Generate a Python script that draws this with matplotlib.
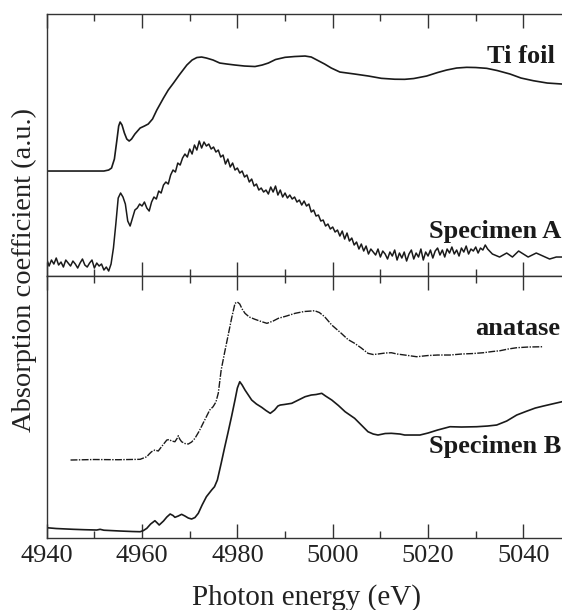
import numpy as np
import matplotlib
matplotlib.use("Agg")
import matplotlib.pyplot as plt
from matplotlib.ticker import MultipleLocator

plt.rcParams['font.family'] = ['Liberation Serif', 'DejaVu Serif']

# ---- data (arbitrary absorption units) ----
# Ti foil reference (upper panel)
ti_energy = [4940, 4952.0, 4953.0, 4953.6, 4954.2, 4954.7, 4955.1, 4955.4, 4955.8,
             4956.3, 4956.8, 4957.3, 4957.8, 4958.5, 4959.6, 4960.5, 4961.3, 4962.2,
             4963.1, 4964.5, 4965.5, 4966.6, 4967.8, 4969.4, 4970.5, 4971.5, 4972.5,
             4973.5, 4974.9, 4976.3, 4977.8, 4979.5, 4981.5, 4983.7, 4985.2, 4986.5,
             4988.0, 4990.0, 4992.0, 4994.2, 4995.5, 4996.7, 4998.3, 4999.7, 5001.5,
             5004.6, 5007.5, 5010.2, 5013.0, 5015.1, 5017.0, 5019.7, 5022.0, 5023.9,
             5026.0, 5028.1, 5030.0, 5032.3, 5034.5, 5037.2, 5039.5, 5042.1, 5045.0,
             5048.1]
ti_foil = [105, 105, 106, 108, 117, 135, 150, 154, 151,
           143, 137, 135, 137, 142, 148, 150, 152, 157,
           166, 178, 186, 193, 201, 211, 216, 218.5, 219,
           218, 216, 213, 212, 211, 210, 209.5, 211, 213,
           216.5, 218.7, 219.5, 220, 219, 216, 212, 208, 204,
           202, 200, 197.7, 196.8, 196.7, 197.5, 200, 203.5, 206,
           208, 208.7, 208.5, 207.7, 205.5, 202, 198, 195.3, 193,
           192]

# Specimen A (upper panel), 0.5 eV steps from 4940 to 5032.5, then coarser tail
spec_a_dense = [17, 10, 16, 12, 18, 11, 14, 9, 16, 13,
                10, 15, 12, 8, 13, 17, 11, 9, 13, 16,
                8, 13, 10, 12, 6, 9, 5, 12, 28, 52,
                78, 83, 79, 72, 55, 50, 58, 66, 68, 72,
                70, 74, 68, 65, 74, 79, 77, 85, 83, 91,
                94, 92, 101, 106, 104, 113, 111, 118, 122, 119,
                127, 122, 131, 126, 135, 128, 134, 130, 132, 127,
                129, 124, 126, 119, 121, 112, 117, 109, 113, 106,
                108, 103, 105, 99, 101, 94, 97, 90, 92, 86,
                88, 84, 86, 82, 89, 84, 90, 81, 86, 79,
                83, 78, 81, 77, 79, 74, 76, 71, 75, 70,
                72, 64, 66, 60, 61, 55, 56, 50, 52, 47,
                49, 44, 46, 40, 45, 37, 43, 35, 38, 31,
                34, 27, 32, 25, 30, 22, 27, 24, 21, 27,
                19, 25, 22, 17, 24, 20, 26, 16, 23, 18,
                24, 15, 22, 26, 17, 23, 19, 27, 16, 24,
                20, 26, 18, 25, 28, 21, 26, 19, 27, 23,
                29, 22, 26, 20, 28, 24, 30, 22, 27, 25,
                29, 23, 28, 26, 31, 27]
spec_a_tail_energy = [5033.5, 5035.0, 5036.5, 5037.7, 5039.0, 5041.0, 5042.7, 5045.5,
                      5046.9, 5048.5]
spec_a_tail = [22, 19, 23, 19, 25, 19, 23, 17, 19, 19]

# anatase reference (lower panel)
anatase_energy = [4945.0, 4950.0, 4955.0, 4959.6, 4960.3, 4961.0, 4961.5, 4962.0, 4962.7,
                  4963.4, 4964.2, 4965.2, 4965.7, 4966.2, 4966.9, 4967.4, 4967.6, 4967.9,
                  4968.3, 4969.0, 4969.7, 4970.4, 4971.1, 4972.0, 4972.8, 4974.2, 4974.9,
                  4975.5, 4976.0, 4976.6, 4977.3, 4978.0, 4978.8, 4979.5, 4980.0, 4980.5,
                  4981.0, 4981.6, 4982.5, 4983.7, 4985.0, 4986.2, 4987.5, 4988.6, 4990.3,
                  4992.1, 4994.0, 4995.5, 4996.2, 4997.2, 4998.3, 4999.8, 5001.8, 5003.2,
                  5004.6, 5006.0, 5007.4, 5008.5, 5009.5, 5011.0, 5012.3, 5013.5, 5015.1,
                  5017.6, 5020.0, 5022.0, 5024.6, 5027.0, 5029.5, 5031.6, 5033.5, 5035.1,
                  5036.8, 5038.6, 5041.0, 5044.2]
anatase = [78, 78.5, 78.3, 78.7, 80, 81.3, 84, 86.3, 88,
           87, 92, 98, 98.5, 97, 96.3, 100, 102.3, 99,
           96.3, 94.5, 94, 96, 99.7, 107, 114.7, 128, 131.3,
           136, 145, 168, 185, 201.3, 220, 234.7, 236, 234,
           229, 224.7, 221, 218.7, 216.5, 214.7, 217, 219.7, 222,
           224.7, 226.5, 227, 227.3, 225.5, 221.3, 213, 204.7, 198.5,
           194.7, 190, 184.7, 183.5, 184, 185, 185.3, 184, 183,
           181.3, 182.5, 183, 183, 184, 184.5, 185.3, 186.5, 187.3,
           189, 190.3, 191, 191.3]

# Specimen B (lower panel)
spec_b_energy = [4940.0, 4942.0, 4945.6, 4948.0, 4950.5, 4951.2, 4952.0, 4955.4, 4958.0,
                 4959.6, 4960.3, 4961.0, 4961.8, 4962.7, 4963.2, 4963.6, 4964.5, 4965.2,
                 4965.9, 4966.5, 4966.9, 4967.6, 4968.3, 4969.0, 4969.7, 4970.4, 4971.1,
                 4971.8, 4972.6, 4973.5, 4974.6, 4975.2, 4975.8, 4976.6, 4977.3, 4978.0,
                 4978.8, 4979.5, 4980.0, 4980.5, 4981.0, 4981.6, 4982.3, 4983.0, 4984.0,
                 4985.1, 4986.0, 4986.9, 4987.8, 4988.5, 4989.0, 4989.8, 4991.4, 4992.8,
                 4994.2, 4995.5, 4996.5, 4997.7, 4998.5, 4999.8, 5001.2, 5002.6, 5003.6,
                 5004.6, 5006.0, 5007.4, 5008.5, 5009.5, 5011.0, 5012.3, 5014.1, 5015.1,
                 5016.5, 5018.3, 5020.0, 5022.0, 5024.6, 5027.0, 5030.2, 5032.5, 5034.4,
                 5036.5, 5038.6, 5040.5, 5042.5, 5044.2, 5046.0, 5048.1]
spec_b = [10.3, 9.5, 8.7, 8.3, 8.0, 8.7, 7.8, 7.0, 6.5,
          6.3, 7.5, 9.7, 14, 17.3, 15, 13, 17, 21,
          24, 22.5, 20.7, 22, 23.7, 22, 20, 19, 20.5,
          24.7, 33, 41.3, 48, 51.3, 58, 74.7, 90, 104.7,
          122, 138, 150, 156.3, 153, 148, 143, 138, 134,
          130.7, 127.5, 124.7, 128, 132, 133, 133.5, 134.7, 138,
          141.3, 143, 143.5, 144.7, 142, 138, 132.5, 126.3, 123,
          119.7, 113, 106.3, 104, 103, 104.5, 104.7, 104, 103,
          103, 103, 105, 108, 111.3, 111, 111.3, 112, 113,
          117, 123, 126.5, 130, 132, 134, 136.3]

spec_a_energy = list(4940 + 0.5 * np.arange(len(spec_a_dense))) + spec_a_tail_energy
spec_a = spec_a_dense + spec_a_tail

# ---- figure ----
fig = plt.figure(figsize=(5.62, 6.10), dpi=100)
ax1 = fig.add_axes([0.0831, 0.5475, 0.9169, 0.4295])
ax2 = fig.add_axes([0.0831, 0.118, 0.9169, 0.4295], sharex=ax1)

ax1.plot(ti_energy, ti_foil, color="#1a1a1a", lw=1.2)
ax1.plot(spec_a_energy, spec_a, color="#1a1a1a", lw=1.1)
ax2.plot(anatase_energy, anatase, color="#1a1a1a", lw=1.0, linestyle=(0, (5, 1, 1, 1)))
ax2.plot(spec_b_energy, spec_b, color="#1a1a1a", lw=1.2)

for ax in (ax1, ax2):
    ax.set_xlim(4940, 5048.1)
    ax.set_ylim(0, 262)
    ax.set_yticks([])
    ax.spines['right'].set_visible(False)
    for s in ('left', 'top', 'bottom'):
        ax.spines[s].set_linewidth(1.0)
        ax.spines[s].set_color("#333333")
    ax.xaxis.set_major_locator(MultipleLocator(20))
    ax.xaxis.set_minor_locator(MultipleLocator(10))
    ax.tick_params(axis='x', which='both', direction='in', top=True, bottom=True,
                   color="#333333", width=1.0)
    ax.tick_params(axis='x', which='major', length=10)
    ax.tick_params(axis='x', which='minor', length=5)

ax1.tick_params(axis='x', labelbottom=False)
ax2.tick_params(axis='x', labelsize=19, pad=5, labelcolor="#222222")

lbl = dict(fontsize=19, fontweight='bold', ha='right', va='baseline', color="#1a1a1a")
ax1.text(5046.6, 212.7, "Ti foil", **lbl)
ax1.text(5048.0, 37.7, "Specimen A", **lbl)
ax2.text(5047.8, 203, "anatase", **lbl)
ax2.text(5048.0, 84.7, "Specimen B", **lbl)

fig.text(306 / 562, 1 - 605 / 610, "Photon energy (eV)", fontsize=21,
         ha='center', va='baseline', color="#222222")
fig.text(24 / 562, 1 - 269.5 / 610, "Absorption coefficient (a.u.)", fontsize=20.5,
         ha='center', va='center', rotation=90, color="#222222")

fig.savefig("out.png", dpi=100)
